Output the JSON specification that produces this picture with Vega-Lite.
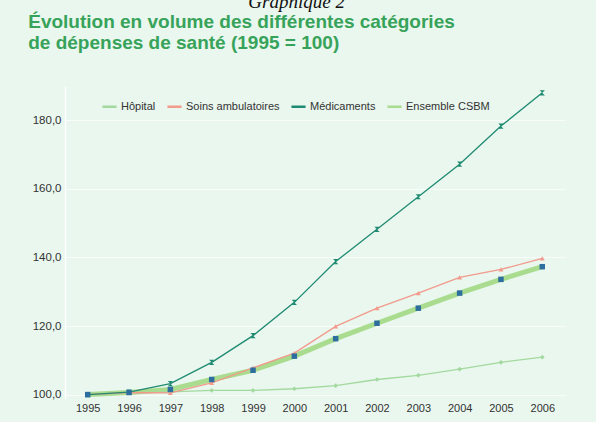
{
  "$schema": "https://vega.github.io/schema/vega-lite/v6.json",
  "background": "#e9f7ee",
  "padding": {"left": 28, "top": -7, "right": 31, "bottom": 9},
  "config": {
    "locale": {"number": {"decimal": ",", "thousands": " ", "grouping": [3], "currency": ["", " €"]}},
    "view": {"stroke": null},
    "concat": {"spacing": 0},
    "font": "Liberation Sans, Arial, sans-serif"
  },
  "title": {
    "text": "Graphique 2",
    "font": "Liberation Serif",
    "fontStyle": "italic",
    "fontWeight": "normal",
    "fontSize": 19,
    "color": "#111111",
    "anchor": "middle",
    "offset": -6,
    "dy": -7
  },
  "vconcat": [
    {
      "width": 500,
      "height": 312,
      "title": {
        "text": ["Évolution en volume des différentes catégories", "de dépenses de santé (1995 = 100)"],
        "font": "Liberation Sans, Arial, sans-serif",
        "fontWeight": "bold",
        "fontSize": 19,
        "lineHeight": 21,
        "color": "#37a35a",
        "anchor": "start",
        "frame": "bounds",
        "dx": -4,
        "offset": 33
      },
      "data": {
        "values": [
          {"annee": 1995, "serie": "Hôpital", "valeur": 100.0},
          {"annee": 1996, "serie": "Hôpital", "valeur": 100.5},
          {"annee": 1997, "serie": "Hôpital", "valeur": 100.8},
          {"annee": 1998, "serie": "Hôpital", "valeur": 101.2},
          {"annee": 1999, "serie": "Hôpital", "valeur": 101.2},
          {"annee": 2000, "serie": "Hôpital", "valeur": 101.7},
          {"annee": 2001, "serie": "Hôpital", "valeur": 102.6},
          {"annee": 2002, "serie": "Hôpital", "valeur": 104.4},
          {"annee": 2003, "serie": "Hôpital", "valeur": 105.6},
          {"annee": 2004, "serie": "Hôpital", "valeur": 107.4},
          {"annee": 2005, "serie": "Hôpital", "valeur": 109.4},
          {"annee": 2006, "serie": "Hôpital", "valeur": 110.9},
          {"annee": 1995, "serie": "Soins ambulatoires", "valeur": 100.0},
          {"annee": 1996, "serie": "Soins ambulatoires", "valeur": 100.6},
          {"annee": 1997, "serie": "Soins ambulatoires", "valeur": 100.5},
          {"annee": 1998, "serie": "Soins ambulatoires", "valeur": 103.4},
          {"annee": 1999, "serie": "Soins ambulatoires", "valeur": 107.8},
          {"annee": 2000, "serie": "Soins ambulatoires", "valeur": 112.1},
          {"annee": 2001, "serie": "Soins ambulatoires", "valeur": 119.9},
          {"annee": 2002, "serie": "Soins ambulatoires", "valeur": 125.2},
          {"annee": 2003, "serie": "Soins ambulatoires", "valeur": 129.6},
          {"annee": 2004, "serie": "Soins ambulatoires", "valeur": 134.2},
          {"annee": 2005, "serie": "Soins ambulatoires", "valeur": 136.5},
          {"annee": 2006, "serie": "Soins ambulatoires", "valeur": 139.7},
          {"annee": 1995, "serie": "Médicaments", "valeur": 100.0},
          {"annee": 1996, "serie": "Médicaments", "valeur": 100.7},
          {"annee": 1997, "serie": "Médicaments", "valeur": 103.2},
          {"annee": 1998, "serie": "Médicaments", "valeur": 109.4},
          {"annee": 1999, "serie": "Médicaments", "valeur": 117.2},
          {"annee": 2000, "serie": "Médicaments", "valeur": 126.9},
          {"annee": 2001, "serie": "Médicaments", "valeur": 138.8},
          {"annee": 2002, "serie": "Médicaments", "valeur": 148.2},
          {"annee": 2003, "serie": "Médicaments", "valeur": 157.7},
          {"annee": 2004, "serie": "Médicaments", "valeur": 167.2},
          {"annee": 2005, "serie": "Médicaments", "valeur": 178.3},
          {"annee": 2006, "serie": "Médicaments", "valeur": 188.0},
          {"annee": 1995, "serie": "Ensemble CSBM", "valeur": 100.0},
          {"annee": 1996, "serie": "Ensemble CSBM", "valeur": 100.6},
          {"annee": 1997, "serie": "Ensemble CSBM", "valeur": 101.5},
          {"annee": 1998, "serie": "Ensemble CSBM", "valeur": 104.4},
          {"annee": 1999, "serie": "Ensemble CSBM", "valeur": 107.1},
          {"annee": 2000, "serie": "Ensemble CSBM", "valeur": 111.2},
          {"annee": 2001, "serie": "Ensemble CSBM", "valeur": 116.3},
          {"annee": 2002, "serie": "Ensemble CSBM", "valeur": 120.8},
          {"annee": 2003, "serie": "Ensemble CSBM", "valeur": 125.2},
          {"annee": 2004, "serie": "Ensemble CSBM", "valeur": 129.6},
          {"annee": 2005, "serie": "Ensemble CSBM", "valeur": 133.6},
          {"annee": 2006, "serie": "Ensemble CSBM", "valeur": 137.3}
        ]
      },
      "encoding": {
        "x": {
          "field": "annee",
          "type": "ordinal",
          "scale": {"type": "point", "padding": 0.55},
          "axis": {
            "title": null,
            "labelAngle": 0,
            "ticks": false,
            "domain": false,
            "grid": false,
            "labelPadding": 4,
            "labelFontSize": 11,
            "labelColor": "#333333"
          }
        },
        "y": {
          "field": "valeur",
          "type": "quantitative",
          "scale": {"domain": [99, 190], "nice": false, "zero": false},
          "axis": {
            "title": null,
            "values": [100, 120, 140, 160, 180],
            "format": ".1f",
            "ticks": false,
            "domain": true,
            "domainColor": "#ffffff",
            "domainWidth": 1.5,
            "gridColor": "#ffffff",
            "gridOpacity": 0.7,
            "labelPadding": 4,
            "labelFontSize": 11.5,
            "labelColor": "#333333"
          }
        }
      },
      "layer": [
        {
          "transform": [{"filter": "datum.serie === 'Ensemble CSBM'"}],
          "mark": {"type": "line", "strokeWidth": 5, "color": "#a9dc8e"},
          "encoding": {"order": {"field": "annee", "type": "quantitative"}}
        },
        {
          "transform": [{"filter": "datum.serie !== 'Ensemble CSBM'"}],
          "mark": {"type": "line"},
          "encoding": {
            "color": {
              "field": "serie",
              "type": "nominal",
              "scale": {
                "domain": ["Hôpital", "Soins ambulatoires", "Médicaments", "Ensemble CSBM"],
                "range": ["#a3d99e", "#f29a8c", "#1f8a72", "#a9dc8e"]
              },
              "legend": {
                "title": null,
                "orient": "none",
                "legendX": 36,
                "legendY": 12,
                "direction": "horizontal",
                "symbolType": "stroke",
                "symbolSize": 200,
                "symbolStrokeWidth": 2.5,
                "labelFontSize": 11,
                "labelColor": "#333333",
                "columnPadding": 6,
                "labelOffset": 3
              }
            },
            "strokeWidth": {
              "field": "serie",
              "type": "nominal",
              "scale": {
                "domain": ["Hôpital", "Soins ambulatoires", "Médicaments"],
                "range": [1.3, 1.3, 1.8]
              },
              "legend": null
            },
            "order": {"field": "annee", "type": "quantitative"}
          }
        },
        {
          "mark": {"type": "point", "filled": true, "opacity": 1},
          "encoding": {
            "color": {
              "field": "serie",
              "type": "nominal",
              "scale": {
                "domain": ["Hôpital", "Soins ambulatoires", "Médicaments", "Ensemble CSBM"],
                "range": ["#a3d99e", "#f29a8c", "#1f8a72", "#2d6e9e"]
              },
              "legend": null
            },
            "shape": {
              "field": "serie",
              "type": "nominal",
              "scale": {
                "domain": ["Hôpital", "Soins ambulatoires", "Médicaments", "Ensemble CSBM"],
                "range": ["diamond", "triangle-up", "M-1,-1L1,-1L-1,1L1,1Z", "square"]
              },
              "legend": null
            },
            "size": {
              "field": "serie",
              "type": "nominal",
              "scale": {
                "domain": ["Hôpital", "Soins ambulatoires", "Médicaments", "Ensemble CSBM"],
                "range": [22, 30, 40, 7]
              },
              "legend": null
            }
          }
        }
      ],
      "resolve": {"scale": {"color": "independent"}}
    }
  ]
}
